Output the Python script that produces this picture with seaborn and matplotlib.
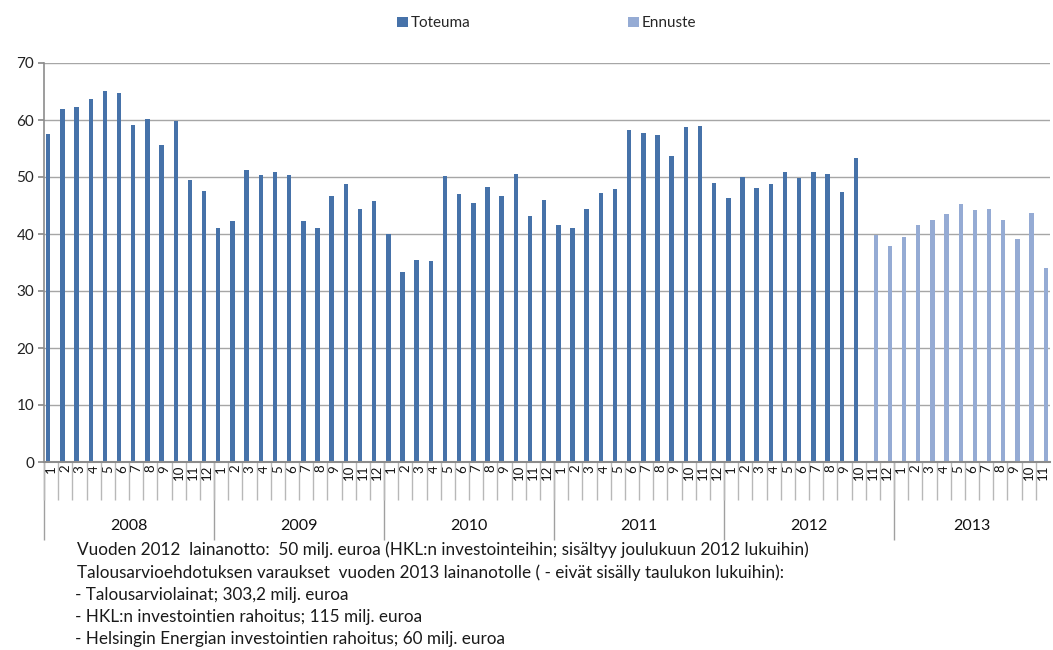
import numpy as np
import pandas as pd
import matplotlib
matplotlib.use("Agg")
import matplotlib.pyplot as plt
import seaborn as sns
from matplotlib.patches import Patch

# ---- data ----
years = ["2008", "2009", "2010", "2011", "2012", "2013"]
months_per_year = [12, 12, 12, 12, 12, 11]

toteuma = [
    57.5, 62.0, 62.3, 63.7, 65.1, 64.7, 59.1, 60.1, 55.7, 59.8, 49.5, 47.5,   # 2008
    41.0, 42.2, 51.2, 50.4, 50.8, 50.4, 42.2, 41.1, 46.7, 48.8, 44.4, 45.8,   # 2009
    40.0, 33.4, 35.5, 35.3, 50.1, 47.1, 45.4, 48.3, 46.7, 50.6, 43.2, 46.0,   # 2010
    41.5, 41.0, 44.4, 47.2, 47.9, 58.3, 57.8, 57.3, 53.7, 58.7, 58.9, 48.9,   # 2011
    46.3, 50.0, 48.0, 48.7, 50.9, 49.8, 50.9, 50.6, 47.3, 53.3,               # 2012 1-10
]
ennuste = [
    39.9, 37.9,                                                               # 2012 11-12
    39.4, 41.6, 42.4, 43.5, 45.3, 44.2, 44.4, 42.5, 39.2, 43.7, 34.1,         # 2013 1-11
]
series_names = ["Toteuma", "Ennuste"]
colors = ["#4672A9", "#95ABD4"]

footnote_lines = [
    "Vuoden 2012  lainanotto:  50 milj. euroa (HKL:n investointeihin; sisältyy joulukuun 2012 lukuihin)",
    "Talousarvioehdotuksen varaukset  vuoden 2013 lainanotolle ( - eivät sisälly taulukon lukuihin):",
    "- Talousarviolainat; 303,2 milj. euroa",
    "- HKL:n investointien rahoitus; 115 milj. euroa",
    "- Helsingin Energian investointien rahoitus; 60 milj. euroa",
]

# ---- build long table ----
month_labels = []
for y, n in zip(years, months_per_year):
    for m in range(1, n + 1):
        month_labels.append(str(m))
n_cat = len(month_labels)
cat_ids = list(range(n_cat))

rows = []
for i, v in enumerate(toteuma):
    rows.append({"cat": cat_ids[i], "serie": "Toteuma", "value": v})
off = len(toteuma)
for j, v in enumerate(ennuste):
    rows.append({"cat": cat_ids[off + j], "serie": "Ennuste", "value": v})
df = pd.DataFrame(rows)

# ---- plot ----
sns.set_theme(style="white")
plt.rcParams["font.family"] = ["Lato", "DejaVu Sans"]

fig = plt.figure(figsize=(10.53, 6.5), dpi=100)
ax = fig.add_axes([44 / 1053, 188 / 650, (1050 - 44) / 1053, (462 - 63) / 650])

sns.barplot(data=df, x="cat", y="value", hue="serie", hue_order=series_names,
            order=cat_ids, palette=colors, dodge=True, width=0.8, gap=0.22,
            legend=False, ax=ax, saturation=1, errorbar=None, linewidth=0)

ax.set_xlim(-0.5, n_cat - 0.5)
ax.set_ylim(0, 70)
ax.set_yticks(np.arange(0, 71, 10))
ax.yaxis.grid(True, color="#a6a6a6", linewidth=1)
ax.set_axisbelow(True)
ax.set_xlabel("")
ax.set_ylabel("")
for s in ["top", "right"]:
    ax.spines[s].set_visible(False)
ax.spines["left"].set_color("#8c8c8c")
ax.spines["bottom"].set_color("#8c8c8c")
ax.spines["left"].set_linewidth(1.2)
ax.spines["bottom"].set_linewidth(1.5)
ax.tick_params(axis="y", left=True, length=4, color="#8c8c8c", labelsize=11,
               labelcolor="#222222", pad=3)

# month labels
ax.set_xticks(cat_ids)
ax.set_xticklabels(month_labels, rotation=90, fontsize=9.5, color="#111111")
ax.tick_params(axis="x", which="major", length=0, pad=2)
ax.set_xticks(np.arange(-0.5, n_cat - 0.5, 1), minor=True)
ax.tick_params(axis="x", which="minor", bottom=True, length=27, color="#b8b8b8", width=1)

# year axis
starts = np.cumsum([0] + months_per_year[:-1])
centers = [s + n / 2 - 0.5 for s, n in zip(starts, months_per_year)]
sec = ax.secondary_xaxis("bottom")
sec.set_xticks(centers)
sec.set_xticklabels(years, fontsize=11.5, color="#111111")
sec.tick_params(axis="x", which="major", length=0, pad=41)
sec.set_xticks([s - 0.5 for s in starts], minor=True)
sec.tick_params(axis="x", which="minor", bottom=True, length=56, color="#a0a0a0", width=1)
sec.spines["bottom"].set_visible(False)

# legend
handles = [Patch(facecolor=c, edgecolor="none") for c in colors]
fig.legend(handles, series_names, loc="center", bbox_to_anchor=(0.519, 0.964),
           ncol=2, frameon=False, fontsize=11, handlelength=0.7, handleheight=0.7,
           handletextpad=0.2, columnspacing=10.3)

# footnote
y0 = 550
for k, line in enumerate(footnote_lines):
    fig.text(77 / 1053 if k < 2 else 75 / 1053, 1 - (y0 + 22.3 * k) / 650, line,
             fontsize=12.3, color="#1a1a1a", va="center", ha="left")

fig.savefig("out.png", dpi=100)
